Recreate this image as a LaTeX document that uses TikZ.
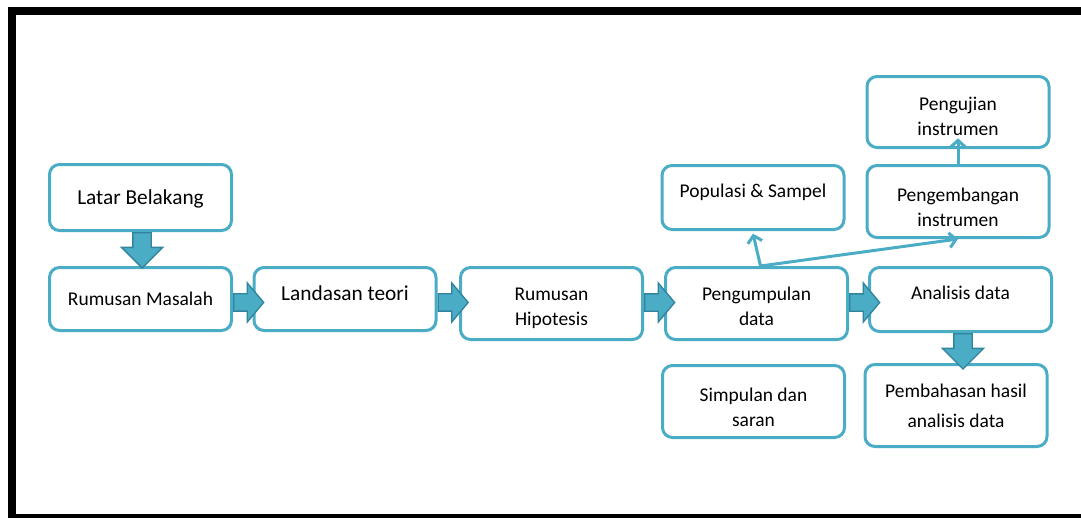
\documentclass[tikz,border=0pt]{standalone}
\usepackage{fontspec}
\setmainfont{Carlito}
\usetikzlibrary{calc,positioning,shapes.arrows,arrows.meta}
\definecolor{boxline}{HTML}{4BACC6}
\definecolor{arrfill}{HTML}{4BACC6}
\definecolor{arredge}{HTML}{31849B}
\tikzset{
  stepbox/.style = {draw=boxline, line width=2.25pt, rounded corners=7.5pt,
                    fill=white, align=center, minimum width=136.5pt,
                    inner sep=2pt, font=\fontsize{14.6}{18.75}\selectfont},
  bigtext/.style = {font=\fontsize{16}{19}\selectfont},
  lift/.style    = {text depth=#1},
  drop/.style    = {text height=#1, text depth=0pt},
  blockr/.style  = {single arrow, fill=arrfill, draw=arredge, line width=1pt,
                    inner sep=6pt, minimum height=22.5pt,
                    single arrow head extend=8.25pt,
                    single arrow tip angle=100, anchor=tail},
  blockd/.style  = {blockr, shape border rotate=270, inner sep=6.4pt,
                    minimum height=26.5pt, single arrow head extend=8.6pt,
                    single arrow tip angle=90},
  thinarr/.style = {draw=boxline, line width=2.25pt,
                    -{Straight Barb[length=5pt,width=11pt]}},
}
\begin{document}
\begin{tikzpicture}[x=0.75pt, y=-0.75pt]
  \useasboundingbox (0,0) rectangle (1081,518);

  % ---------- frame ---------------------------------------------------
  \fill (8,7)   rectangle (1081,15);
  \fill (8,7)   rectangle (16,518);
  \fill (8,514) rectangle (1081,518);

  % ---------- boxes ---------------------------------------------------
  \node[stepbox, bigtext, lift=1pt, minimum height=49.5pt] (lb) at (140.5,197.5) {Latar Belakang};
  \node[stepbox, lift=-2pt, minimum height=47.25pt] (rm) at (140.5,299) {Rumusan Masalah};
  \node[stepbox, bigtext, lift=9pt, minimum height=47.25pt] (lt) at (345,299) {Landasan teori};
  \node[stepbox, drop=32.7pt, minimum height=54pt] (rh) at (551.5,303.5) {Rumusan\\Hipotesis};
  \node[stepbox, drop=32.5pt, minimum height=54pt] (pd) at (756.5,303.5) {Pengumpulan\\data};
  \node[stepbox, lift=10.5pt, minimum height=48pt] (ad) at (960.5,299.5) {Analisis data};
  \node[stepbox, lift=10.5pt, minimum height=48pt] (ps) at (753,197.5) {Populasi \& Sampel};
  \node[stepbox, drop=37pt, minimum height=54pt] (pi) at (958,201.5) {Pengembangan\\instrumen};
  \node[stepbox, drop=35.5pt, minimum height=53.25pt] (uj) at (958,112) {Pengujian\\instrumen};
  \node[stepbox, drop=37pt, minimum height=54pt] (ss) at (753.5,401.5) {Simpulan dan\\saran};
  \node[stepbox, minimum height=61.5pt] (ph) at (956,405.5) {Pembahasan hasil\\[3.75pt]analisis data};

  % ---------- thin arrows ---------------------------------------------
  \coordinate (fork) at ($(pd.north)+(4,0)$);
  \draw[thinarr] (fork) -- ([yshift=-2pt]ps.south);
  \draw[thinarr] (fork) -- (pi.south);
  \draw[thinarr] (pi.north) -- ([yshift=8pt]uj.south);

  % ---------- block arrows --------------------------------------------
  \node[blockd] (a-lb) at ([xshift=1.2pt]lb.south) {};
  \node[blockd] (a-ad) at ([xshift=1.9pt]ad.south) {};
  \foreach \bxa/\dy in {rm/-2.6, lt/-2.6, rh/0.75, pd/0.75}
    {\node[blockr] (a-\bxa) at ([yshift=\dy pt]\bxa.east) {};}

\end{tikzpicture}
\end{document}
